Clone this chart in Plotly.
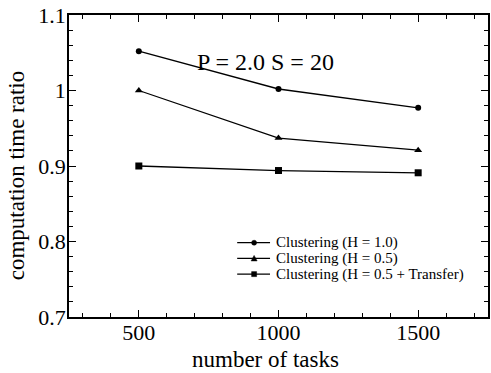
import plotly.graph_objects as go

tasks = [500, 1000, 1500]
h10 = [1.052, 1.002, 0.977]
h05 = [1.000, 0.937, 0.921]
h05_transfer = [0.900, 0.894, 0.891]
names = ["Clustering (H = 1.0)", "Clustering (H = 0.5)", "Clustering (H = 0.5 + Transfer)"]
symbols = ["circle", "triangle-up", "square"]
ytickvals = [0.7, 0.8, 0.9, 1.0, 1.1]
yticktext = ["0.7", "0.8", "0.9", "1", "1.1"]
xtickvals = [500, 1000, 1500]

font = "Liberation Serif"
fig = go.Figure()
for ys, nm, sym in zip([h10, h05, h05_transfer], names, symbols):
    fig.add_trace(go.Scatter(x=tasks, y=ys, name=nm, mode="lines+markers", showlegend=False,
                             line=dict(color="black", width=1.3),
                             marker=dict(symbol=sym, size=7 if sym != "circle" else 6, color="black")))

fig.add_annotation(x=0.47, y=0.894, xref="paper", yref="paper", text="P = 2.0 S = 20",
                   showarrow=False, font=dict(family=font, size=24, color="black"))

# axis titles
fig.add_annotation(x=0.47, y=-0.142, xref="paper", yref="paper", text="number of tasks",
                   showarrow=False, yanchor="middle", font=dict(family=font, size=23, color="black"))
fig.add_annotation(x=-0.126, y=0.47, xref="paper", yref="paper", text="computation time ratio",
                   showarrow=False, textangle=-90, xanchor="center", yanchor="middle",
                   font=dict(family=font, size=23, color="black"))

# manual legend (decoration)
leg_y = [0.246, 0.194, 0.142]
for ly, nm, sym in zip(leg_y, names, symbols):
    fig.add_shape(type="line", xref="paper", yref="paper", x0=0.4014, x1=0.4798, y0=ly, y1=ly,
                  line=dict(color="black", width=1.3))
    if sym == "circle":
        fig.add_shape(type="circle", xref="paper", yref="paper", xsizemode="pixel", ysizemode="pixel",
                      xanchor=0.4418, yanchor=ly, x0=-2.5, x1=2.5, y0=-2.5, y1=2.5,
                      fillcolor="black", line=dict(color="black", width=0.5))
    elif sym == "square":
        fig.add_shape(type="rect", xref="paper", yref="paper", xsizemode="pixel", ysizemode="pixel",
                      xanchor=0.4418, yanchor=ly, x0=-2.5, x1=2.5, y0=-2.5, y1=2.5,
                      fillcolor="black", line=dict(color="black", width=0.5))
    else:
        fig.add_shape(type="path", xref="paper", yref="paper", xsizemode="pixel", ysizemode="pixel",
                      xanchor=0.4418, yanchor=ly, path="M -3,-2.5 L 3,-2.5 L 0,3 Z",
                      fillcolor="black", line=dict(color="black", width=0.5))
    fig.add_annotation(x=0.4917, y=ly, xref="paper", yref="paper", text=nm, showarrow=False,
                       xanchor="left", yanchor="middle", borderpad=0,
                       font=dict(family=font, size=15, color="black"))

axcommon = dict(showline=True, linecolor="black", linewidth=1.5, mirror="ticks",
                ticks="inside", ticklen=7, tickcolor="black", tickwidth=1.2,
                showgrid=False, zeroline=False,
                tickfont=dict(family=font, size=22, color="black"))
fig.update_xaxes(range=[250, 1750], tickvals=xtickvals, ticklabelstandoff=-5, **axcommon,
                 minor=dict(ticks="inside", dtick=100, ticklen=4, tickcolor="black", tickwidth=1))
fig.update_yaxes(range=[0.7, 1.1], tickvals=ytickvals, ticktext=yticktext, ticklabelstandoff=-3, **axcommon,
                 minor=dict(ticks="inside", dtick=0.02, ticklen=4, tickcolor="black", tickwidth=1))
fig.update_layout(width=491, height=373, margin=dict(l=69, r=1, t=15, b=56),
                  font=dict(family=font),
                  plot_bgcolor="white", paper_bgcolor="white", showlegend=False)
fig.write_html("out.html")
